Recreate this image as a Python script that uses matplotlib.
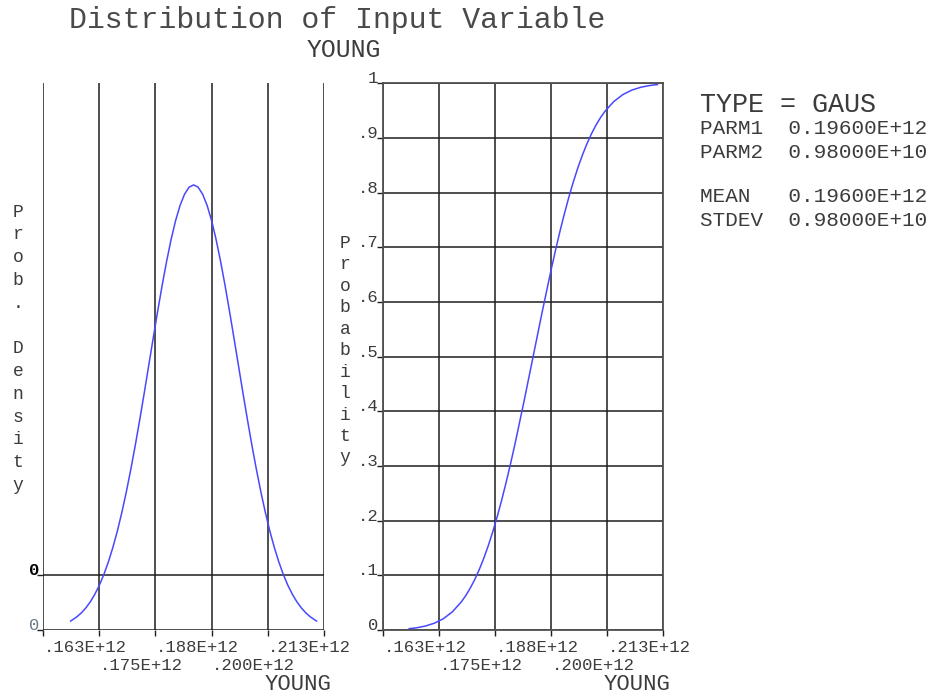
import matplotlib
matplotlib.use('Agg')
import matplotlib.pyplot as plt

FONT = ['Liberation Mono', 'DejaVu Sans Mono']
TEXT_C = '#3c3c3c'
GRID_C = '#1e1e1e'
CURVE_C = '#4848ff'

# ---------------- data ----------------
title = 'Distribution of Input Variable'
var_name = 'YOUNG'

x_ticks = [0.1625, 0.175, 0.1875, 0.2, 0.2125, 0.225]          # E+12
x_tick_labels = ['.163E+12', '.175E+12', '.188E+12', '.200E+12', '.213E+12']

pdf_y_ticks = [0.0, 0.5]                                          # E-11
pdf_y_tick_labels = ['0', '0']
pdf_ylabel = 'Prob. Density'

cdf_y_ticks = [0.0, 0.1, 0.2, 0.3, 0.4, 0.5, 0.6, 0.7, 0.8, 0.9, 1.0]
cdf_y_tick_labels = ['0', '.1', '.2', '.3', '.4', '.5', '.6', '.7', '.8', '.9', '1']
cdf_ylabel = 'Probability'

# probability density curve (x in E+12, y in E-11)
pdf_x = [0.1686, 0.170, 0.171, 0.172, 0.173, 0.174, 0.175, 0.176, 0.177, 0.178,
         0.179, 0.180, 0.181, 0.182, 0.183, 0.184, 0.185, 0.186, 0.187, 0.188,
         0.189, 0.190, 0.191, 0.192, 0.193, 0.194, 0.195, 0.196, 0.197, 0.198,
         0.199, 0.200, 0.201, 0.202, 0.203, 0.204, 0.205, 0.206, 0.207, 0.208,
         0.209, 0.210, 0.211, 0.212, 0.213, 0.214, 0.215, 0.216, 0.217, 0.218,
         0.219, 0.220, 0.221, 0.222, 0.2234]
pdf_y = [0.082, 0.121, 0.157, 0.203, 0.259, 0.328, 0.410, 0.508, 0.622, 0.754,
         0.904, 1.074, 1.262, 1.468, 1.689, 1.924, 2.168, 2.419, 2.670, 2.917,
         3.154, 3.375, 3.574, 3.746, 3.885, 3.987, 4.050, 4.071, 4.050, 3.987,
         3.885, 3.746, 3.574, 3.375, 3.154, 2.917, 2.670, 2.419, 2.168, 1.924,
         1.689, 1.468, 1.262, 1.074, 0.904, 0.754, 0.622, 0.508, 0.410, 0.328,
         0.259, 0.203, 0.157, 0.121, 0.082]

# cumulative distribution curve
cdf_x = [0.1684, 0.170, 0.172, 0.174, 0.176, 0.178, 0.180, 0.181, 0.182, 0.183,
         0.184, 0.185, 0.186, 0.187, 0.188, 0.189, 0.190, 0.191, 0.192, 0.194,
         0.196, 0.198, 0.200, 0.201, 0.202, 0.203, 0.204, 0.205, 0.206, 0.207,
         0.208, 0.209, 0.210, 0.211, 0.212, 0.214, 0.216, 0.218, 0.220, 0.222,
         0.2237]
cdf_y = [0.0024, 0.0040, 0.0072, 0.0124, 0.0206, 0.0331, 0.0513, 0.0629, 0.0766, 0.0923,
         0.1104, 0.1309, 0.1538, 0.1793, 0.2072, 0.2376, 0.2702, 0.3050, 0.3416, 0.4192,
         0.5000, 0.5808, 0.6584, 0.6950, 0.7298, 0.7624, 0.7928, 0.8207, 0.8462, 0.8691,
         0.8896, 0.9077, 0.9234, 0.9371, 0.9487, 0.9669, 0.9794, 0.9876, 0.9928, 0.9960,
         0.9977]

dist_type = 'GAUS'
info_names = ['PARM1', 'PARM2', 'MEAN', 'STDEV']
info_values = ['0.19600E+12', '0.98000E+10', '0.19600E+12', '0.98000E+10']

# ---------------- layout ----------------
W, H = 929, 698
fig = plt.figure(figsize=(W / 100, H / 100), dpi=100)
fig.patch.set_facecolor('white')


def px_rect(x0, x1, y_top, y_bot):
    return [x0 / W, (H - y_bot) / H, (x1 - x0) / W, (y_bot - y_top) / H]


def ftext(x, y, s, size, ha='left', va='center', **kw):
    fig.text(x / W, 1 - y / H, s, fontsize=size, ha=ha, va=va,
             family=FONT, color=kw.pop('color', TEXT_C), **kw)


ax1 = fig.add_axes(px_rect(43.3, 323.7, 83.3, 630))
ax2 = fig.add_axes(px_rect(382.7, 663.3, 83.3, 630))


def tick_labels_x(ax):
    for i, lab in enumerate(x_tick_labels):
        dy = -18 if i % 2 == 0 else -35
        ax.annotate(lab, xy=(x_ticks[i], 0), xycoords=('data', 'axes fraction'),
                    xytext=(0.5, dy * 0.72), textcoords='offset points',
                    ha='left', va='center', fontsize=12.4, family=FONT, color=TEXT_C)
    ax.annotate(var_name, xy=(0.907, 0), xycoords='axes fraction',
                xytext=(0, -55 * 0.72), textcoords='offset points',
                ha='center', va='center', fontsize=16, family=FONT, color=TEXT_C)


# ---- PDF panel ----
ax1.set_xlim(x_ticks[0], x_ticks[-1])
ax1.set_ylim(0, 5)
for s in ax1.spines.values():
    s.set_visible(False)
for xv in x_ticks:
    ax1.axvline(xv, color=GRID_C, lw=1.1, zorder=1)
for yv in pdf_y_ticks:
    ax1.axhline(yv, color=GRID_C, lw=1.1, zorder=1)
ax1.set_xticks(x_ticks)
ax1.set_yticks(pdf_y_ticks)
ax1.tick_params(axis='both', direction='out', length=4.5, width=1.0, color=GRID_C,
                labelbottom=False, labelleft=False)
ax1.plot(pdf_x, pdf_y, color=CURVE_C, lw=1.1, zorder=3)
tick_labels_x(ax1)
label_cols = ['#000000', '#6a7a8a']
for yv, lab, c in zip(pdf_y_ticks[::-1], pdf_y_tick_labels[::-1], label_cols):
    ax1.annotate(lab, xy=(0, yv), xycoords=('axes fraction', 'data'),
                 xytext=(-3.5 * 0.72, 0), textcoords='offset points',
                 ha='right', va='baseline', fontsize=12.4, family=FONT, color=c,
                 fontweight='bold' if c == '#000000' else 'normal')

# ---- CDF panel ----
ax2.set_xlim(x_ticks[0], x_ticks[-1])
ax2.set_ylim(0, 1)
for s in ax2.spines.values():
    s.set_color('#505050')
    s.set_linewidth(1.3)
ax2.set_xticks(x_ticks)
ax2.set_yticks(cdf_y_ticks)
ax2.grid(True, color=GRID_C, lw=1.1)
ax2.set_axisbelow(True)
ax2.tick_params(axis='both', direction='out', length=4.5, width=1.0, color=GRID_C,
                labelbottom=False, labelleft=False)
ax2.plot(cdf_x, cdf_y, color=CURVE_C, lw=1.1, zorder=3)
tick_labels_x(ax2)
for yv, lab in zip(cdf_y_ticks, cdf_y_tick_labels):
    ax2.annotate(lab, xy=(0, yv), xycoords=('axes fraction', 'data'),
                 xytext=(-4.5 * 0.72, 0), textcoords='offset points',
                 ha='right', va='baseline', fontsize=12.4, family=FONT, color=TEXT_C)

# ---- stacked y labels ----
y0, step = 212, 22.8
for k, ch in enumerate(pdf_ylabel):
    if ch != ' ':
        ftext(18, y0 + k * step, ch, 13, ha='center')
y0, step = 243, 21.5
for k, ch in enumerate(cdf_ylabel):
    ftext(345, y0 + k * step, ch, 13, ha='center')

# ---- titles ----
ftext(337, 20, title, 21.5, ha='center', color='#4a4a4a')
ftext(344, 50, var_name, 17.8, ha='center')

# ---- info block ----
ftext(700, 105, 'TYPE = ' + dist_type, 19.3)
rows_y = [129, 152, 197, 220]
for nm, val, yy in zip(info_names, info_values, rows_y):
    ftext(700, yy, f'{nm:<7s}{val}', 15.1)

fig.savefig('out.png', dpi=100, facecolor='white')
